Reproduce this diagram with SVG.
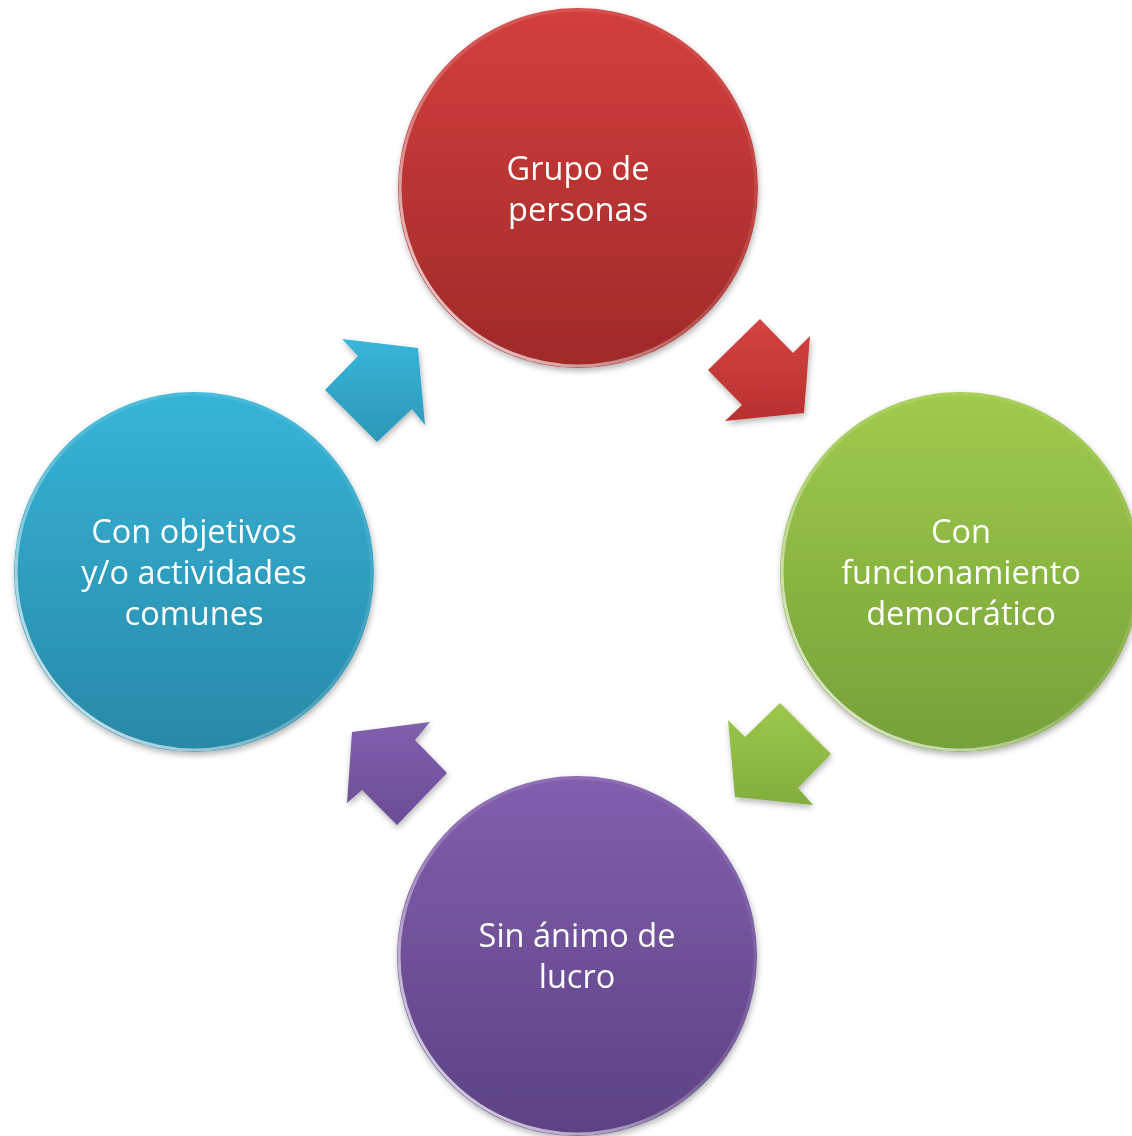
<svg xmlns="http://www.w3.org/2000/svg" width="1132" height="1136" viewBox="0 0 1132 1136">
<defs>
<linearGradient id="gRed" x1="0" y1="0" x2="0" y2="1"><stop offset="0" stop-color="#d33f3d"/><stop offset="1" stop-color="#9f2a28"/></linearGradient>
<linearGradient id="gGreen" x1="0" y1="0" x2="0" y2="1"><stop offset="0" stop-color="#a0cb4c"/><stop offset="1" stop-color="#76a039"/></linearGradient>
<linearGradient id="gPurple" x1="0" y1="0" x2="0" y2="1"><stop offset="0" stop-color="#825fae"/><stop offset="1" stop-color="#5c4283"/></linearGradient>
<linearGradient id="gBlue" x1="0" y1="0" x2="0" y2="1"><stop offset="0" stop-color="#36b4d8"/><stop offset="1" stop-color="#2889a7"/></linearGradient>
<linearGradient id="aRed" x1="0" y1="0" x2="0" y2="1"><stop offset="0" stop-color="#d44441"/><stop offset="1" stop-color="#b8302e"/></linearGradient>
<linearGradient id="aGreen" x1="0" y1="0" x2="0" y2="1"><stop offset="0" stop-color="#9cc84b"/><stop offset="1" stop-color="#82ad3e"/></linearGradient>
<linearGradient id="aPurple" x1="0" y1="0" x2="0" y2="1"><stop offset="0" stop-color="#8160ad"/><stop offset="1" stop-color="#6a4c96"/></linearGradient>
<linearGradient id="aBlue" x1="0" y1="0" x2="0" y2="1"><stop offset="0" stop-color="#38b6d9"/><stop offset="1" stop-color="#2c97b8"/></linearGradient>
<linearGradient id="rim" x1="1" y1="0" x2="0" y2="1"><stop offset="0" stop-color="#fff" stop-opacity="0.05"/><stop offset="0.5" stop-color="#fff" stop-opacity="0.15"/><stop offset="0.85" stop-color="#fff" stop-opacity="0.7"/><stop offset="1" stop-color="#fff" stop-opacity="0.3"/></linearGradient>
<filter id="sh" x="-20%" y="-20%" width="140%" height="140%"><feGaussianBlur in="SourceAlpha" stdDeviation="3"/><feOffset dx="1" dy="3"/><feComponentTransfer><feFuncA type="linear" slope="0.3"/></feComponentTransfer><feMerge><feMergeNode/><feMergeNode in="SourceGraphic"/></feMerge></filter>
</defs>
<style>
.t{font-family:"Open Sans","Liberation Sans",sans-serif;font-size:32.5px;fill:#fff;text-anchor:middle}
.rim{fill:none;stroke:url(#rim);stroke-width:3}
</style>
<rect width="1132" height="1136" fill="#fff"/>
<g id="connectors" filter="url(#sh)">
<polygon points="760,319 793,353 810,336 804,413 725,421 742,405 708,370" fill="url(#aRed)"/>
<polygon points="728,720 745,737 780,703 831,754 798,788 813,805 735,797" fill="url(#aGreen)"/>
<polygon points="352,732 430,722 415,740 447,773 397,825 362,790 347,803" fill="url(#aPurple)"/>
<polygon points="342,339 418,348 425,425 412,409 377,442 325,390 358,356" fill="url(#aBlue)"/>
</g>
<g id="node-red" filter="url(#sh)">
<circle cx="578" cy="188" r="180" fill="url(#gRed)"/>
<circle cx="578" cy="188" r="178" class="rim"/>
<text class="t" x="578" y="180">Grupo de</text>
<text class="t" x="578" y="221">personas</text>
</g>
<g id="node-green" filter="url(#sh)">
<circle cx="960" cy="572" r="180" fill="url(#gGreen)"/>
<circle cx="960" cy="572" r="178" class="rim"/>
<text class="t" x="961" y="543">Con</text>
<text class="t" x="961" y="584">funcionamiento</text>
<text class="t" x="961" y="625">democrático</text>
</g>
<g id="node-purple" filter="url(#sh)">
<circle cx="577" cy="956" r="180" fill="url(#gPurple)"/>
<circle cx="577" cy="956" r="178" class="rim"/>
<text class="t" x="577" y="947">Sin ánimo de</text>
<text class="t" x="577" y="988">lucro</text>
</g>
<g id="node-blue" filter="url(#sh)">
<circle cx="194" cy="572" r="180" fill="url(#gBlue)"/>
<circle cx="194" cy="572" r="178" class="rim"/>
<text class="t" x="194" y="543">Con objetivos</text>
<text class="t" x="194" y="584">y/o actividades</text>
<text class="t" x="194" y="625">comunes</text>
</g>
</svg>
